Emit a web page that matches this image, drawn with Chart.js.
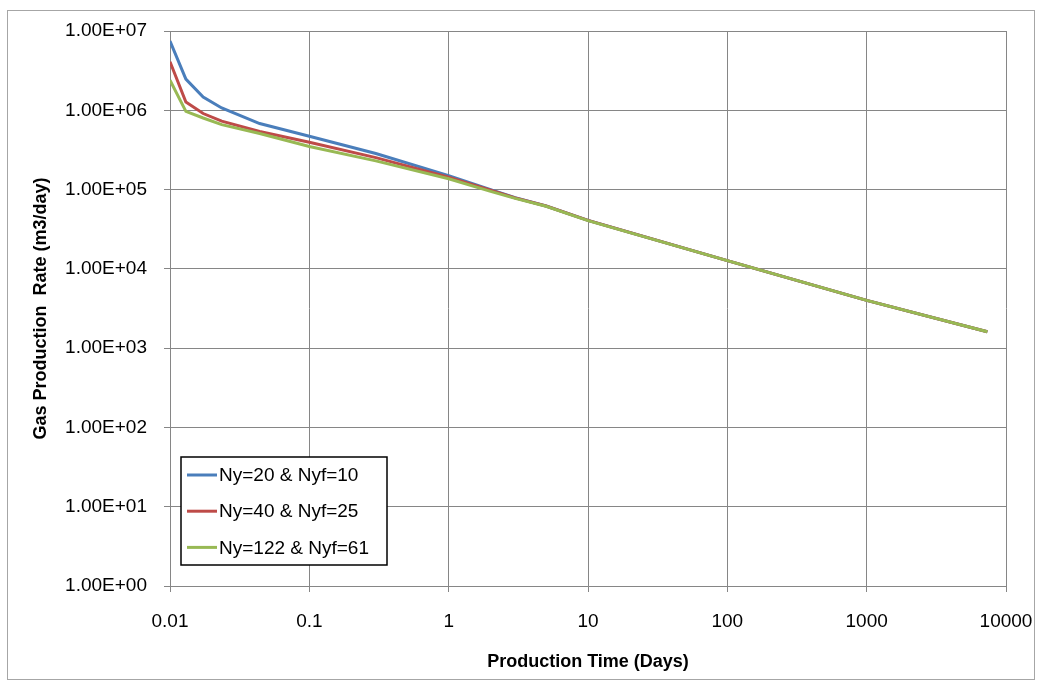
<!DOCTYPE html>
<html lang="en">
<head>
<meta charset="utf-8">
<title>Gas Production Rate</title>
<script src="https://cdn.jsdelivr.net/npm/chart.js@4.4.1/dist/chart.umd.min.js"></script>
<style>
body { margin: 0; background: #fff; }
#wrap { width: 1040px; height: 686px; }
</style>
</head>
<body>
<div id="wrap"><canvas id="rate" width="1040" height="686"></canvas></div>
<script>
// production time (days) and rates (m3/day) for the three grid refinements
const days = [0.01, 0.013, 0.0173, 0.0235, 0.044, 0.1, 0.3, 1, 2, 3, 5, 10, 100, 1000, 7350];
const rateNy20 = [7.47e6, 2.47e6, 1.47e6, 1.07e6, 6.8e5, 4.7e5, 2.85e5, 1.5e5, 1.0e5, 7.9e4, 6.2e4, 4.08e4, 1.27e4, 4.0e3, 1.61e3];
const rateNy40 = [4.1e6, 1.27e6, 9.1e5, 7.3e5, 5.4e5, 3.95e5, 2.53e5, 1.43e5, 9.8e4, 7.85e4, 6.2e4, 4.08e4, 1.27e4, 4.0e3, 1.61e3];
const rateNy122 = [2.4e6, 9.7e5, 8.0e5, 6.6e5, 5.1e5, 3.5e5, 2.3e5, 1.37e5, 9.5e4, 7.75e4, 6.15e4, 4.06e4, 1.27e4, 4.0e3, 1.61e3];

const seriesNames = ['Ny=20 & Nyf=10', 'Ny=40 & Nyf=25', 'Ny=122 & Nyf=61'];
const seriesColors = ['#4A7EBB', '#BE4B48', '#98B954'];

const xTicks = [0.01, 0.1, 1, 10, 100, 1000, 10000];
const xTickLabels = ['0.01', '0.1', '1', '10', '100', '1000', '10000'];
const yTicks = [1, 10, 100, 1000, 1e4, 1e5, 1e6, 1e7];
const yTickLabels = ['1.00E+00', '1.00E+01', '1.00E+02', '1.00E+03', '1.00E+04', '1.00E+05', '1.00E+06', '1.00E+07'];

const gridColor = '#868686';
const fontFamily = "'Liberation Sans', Arial, sans-serif";

function pts(vals) {
    return days.map((d, i) => ({x: d, y: vals[i]}));
}

const allRates = [rateNy20, rateNy40, rateNy122];
const datasets = allRates.map((vals, i) => ({
    label: seriesNames[i],
    data: pts(vals),
    borderColor: seriesColors[i],
    borderWidth: 3,
    pointRadius: 0,
    tension: 0,
    fill: false,
    order: 3 - i
}));

// white page plus the thin frame round the whole chart
const framePlugin = {
    id: 'frame',
    beforeDraw(chart) {
        const c = chart.ctx;
        c.save();
        c.fillStyle = '#fff';
        c.fillRect(0, 0, chart.width, chart.height);
        c.strokeStyle = '#a6a6a6';
        c.lineWidth = 1;
        c.strokeRect(7.5, 10.5, 1027, 669);
        c.restore();
    }
};

// boxed legend sitting inside the plot area, lower left
const boxLegend = {
    id: 'boxLegend',
    afterDraw(chart) {
        const c = chart.ctx;
        const x0 = 181, y0 = 457, w = 206, h = 108;
        c.save();
        c.fillStyle = '#fff';
        c.fillRect(x0, y0, w, h);
        c.strokeStyle = '#000';
        c.lineWidth = 1.5;
        c.strokeRect(x0, y0, w, h);
        c.font = '19px ' + fontFamily;
        c.textBaseline = 'middle';
        c.fillStyle = '#000';
        chart.data.datasets.forEach((ds, i) => {
            const y = 475 + i * 36.2;
            c.strokeStyle = ds.borderColor;
            c.lineWidth = 3;
            c.beginPath();
            c.moveTo(187, y);
            c.lineTo(217, y);
            c.stroke();
            c.fillText(ds.label, 219, y + 1);
        });
        c.restore();
    }
};

new Chart(document.getElementById('rate'), {
    type: 'line',
    data: { datasets: datasets },
    options: {
        responsive: false,
        animation: false,
        devicePixelRatio: 1,
        layout: { padding: { top: 31, right: 34, left: 0, bottom: 0 } },
        plugins: {
            legend: { display: false },
            tooltip: { enabled: false }
        },
        scales: {
            x: {
                type: 'logarithmic',
                min: 0.01,
                max: 10000,
                afterBuildTicks: s => { s.ticks = xTicks.map(v => ({value: v})); },
                afterFit: s => { s.height = 100; s.paddingLeft = 0; s.paddingRight = 0; },
                grid: { color: gridColor, tickColor: gridColor, tickLength: 6, lineWidth: 1 },
                border: { color: gridColor, width: 1 },
                ticks: {
                    color: '#000',
                    font: { family: fontFamily, size: 19 },
                    padding: 18,
                    maxRotation: 0,
                    autoSkip: false,
                    callback: v => xTickLabels[xTicks.indexOf(v)]
                },
                title: {
                    display: true,
                    text: 'Production Time (Days)',
                    color: '#000',
                    font: { family: fontFamily, size: 18, weight: 'bold' },
                    padding: { top: 0, bottom: 13 }
                }
            },
            y: {
                type: 'logarithmic',
                min: 1,
                max: 1e7,
                afterBuildTicks: s => { s.ticks = yTicks.map(v => ({value: v})); },
                afterFit: s => { s.width = 170; s.paddingTop = 0; s.paddingBottom = 0; },
                grid: { color: gridColor, tickColor: gridColor, tickLength: 6, lineWidth: 1 },
                border: { color: gridColor, width: 1 },
                ticks: {
                    color: '#000',
                    font: { family: fontFamily, size: 19 },
                    padding: 17,
                    autoSkip: false,
                    callback: v => yTickLabels[yTicks.indexOf(v)]
                },
                title: {
                    display: true,
                    text: 'Gas Production  Rate (m3/day)',
                    color: '#000',
                    font: { family: fontFamily, size: 18, weight: 'bold' },
                    padding: { top: 30, bottom: 0 }
                }
            }
        }
    },
    plugins: [framePlugin, boxLegend]
});
</script>
</body>
</html>
